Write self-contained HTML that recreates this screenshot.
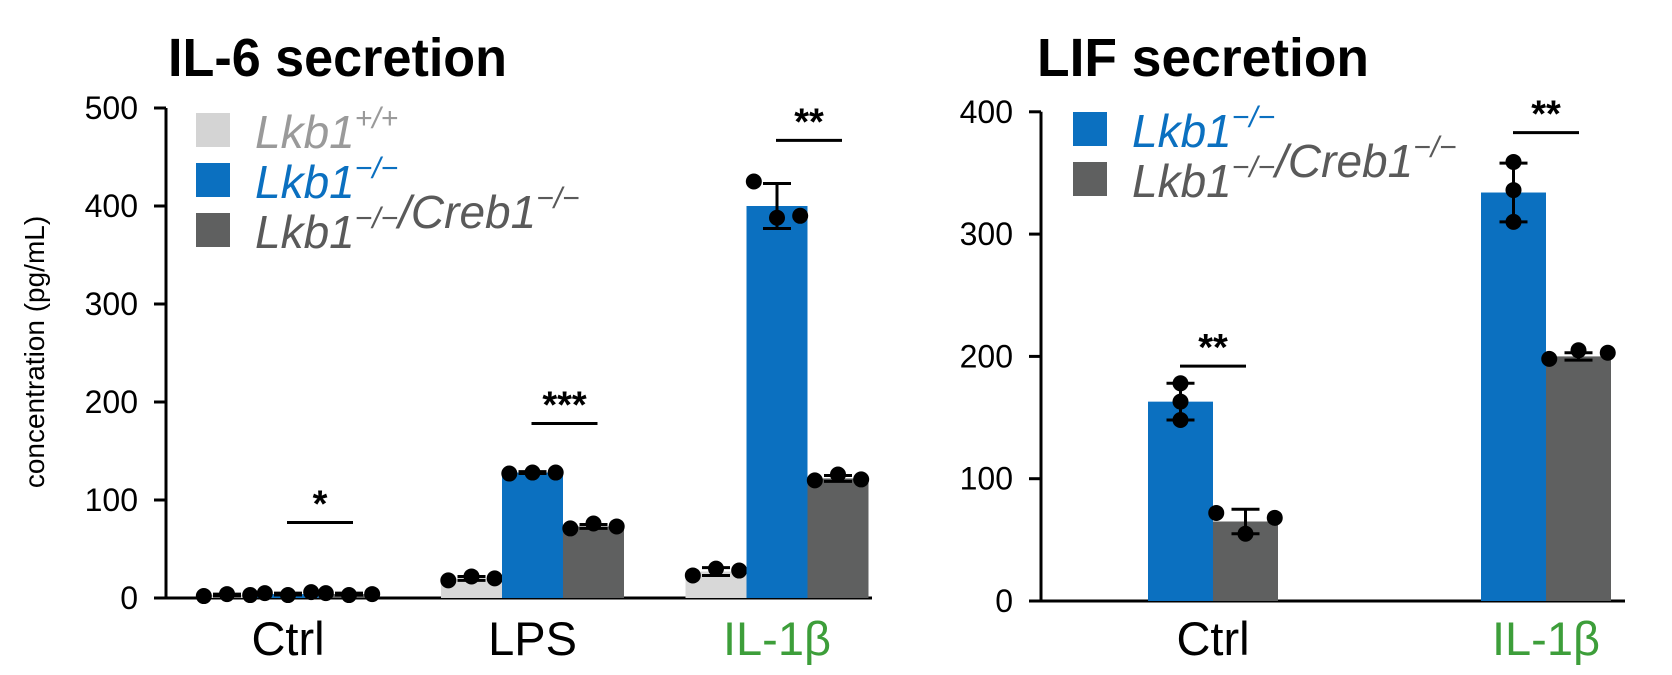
<!DOCTYPE html>
<html><head><meta charset="utf-8"><style>
body{margin:0;background:#fff;}
svg{display:block;font-family:"Liberation Sans",sans-serif;}
</style></head><body>
<svg id="c" width="1672" height="675" xmlns="http://www.w3.org/2000/svg">
<text x="168" y="76" font-size="54" font-weight="bold" textLength="339" lengthAdjust="spacingAndGlyphs">IL-6 secretion</text>
<text x="1037" y="76" font-size="54" font-weight="bold" textLength="332" lengthAdjust="spacingAndGlyphs">LIF secretion</text>
<text transform="translate(44,352) rotate(-90)" text-anchor="middle" font-size="28">concentration (pg/mL)</text>
<g id="L"></g>
<g id="R"></g>
</svg>
<script>
// Left chart data (IL-6)
const leftCats = ["Ctrl","LPS","IL-1β"];
const leftWT = [3, 20, 27];
const leftKO = [4, 128, 400];
const leftDKO = [4, 73, 122];
const leftWTpts = [[2,4,3],[18,22,20],[23,30,28]];
const leftKOpts = [[5,3,6],[127,128,128],[425,388,390]];
const leftDKOpts = [[5,3,4],[71,76,73],[120,126,121]];
const leftErr = [[1,1,1],[2,1,2],[4,23,3]];
const leftTicks = [0,100,200,300,400,500];
const leftSig = ["*","***","**"];
const leftSigY = [77, 178, 467];
// Right chart data (LIF)
const rightCats = ["Ctrl","IL-1β"];
const rightKO = [163, 334];
const rightDKO = [65, 200];
const rightKOpts = [[178,163,148],[359,336,310]];
const rightDKOpts = [[72,55,68],[198,205,203]];
const rightErr = [[15,10],[24,3]];
const rightTicks = [0,100,200,300,400];
const rightSig = ["**","**"];
const rightSigY = [192, 383];

const NS="http://www.w3.org/2000/svg";
const BLUE="#0b70c0", DARK="#5f6060", LIGHT="#d8d8d8";
function mk(p,tag,at){const e=document.createElementNS(NS,tag);for(const k in at)e.setAttribute(k,at[k]);p.appendChild(e);return e;}

function drawChart(g, opt){
  const y = v => opt.y0 - v*opt.py;
  let e=mk(g,"line",{x1:opt.ax,y1:y(opt.ticks[opt.ticks.length-1]),x2:opt.ax,y2:opt.y0+1,stroke:"#000","stroke-width":3});
  
  
  e=mk(g,"line",{x1:opt.ax-12,y1:opt.y0,x2:opt.axEnd,y2:opt.y0,stroke:"#000","stroke-width":3});
  
  
  opt.ticks.forEach(t=>{
    let l=mk(g,"line",{x1:opt.ax-12,y1:y(t),x2:opt.ax,y2:y(t),stroke:"#000","stroke-width":3});
    
    
    let tx=mk(g,"text",{x:opt.ax-28,y:y(t)+11,"text-anchor":"end","font-size":32});
    tx.textContent=t;
    
    
  });
  opt.cats.forEach((c,i)=>{
    const cx=opt.c0+i*opt.gap;
    const n=opt.series.length;
    opt.series.forEach((s,j)=>{
      const bx=cx+(j-n/2)*opt.bw;
      const v=s.vals[i];
      let r=mk(g,"rect",{x:bx,y:y(v),width:opt.bw,height:v*opt.py,fill:s.color});
      
      
      const mx=bx+opt.bw/2, er=s.err[i];
      let eb=mk(g,"path",{d:`M${mx} ${y(v+er)}V${y(v-er)}M${mx-14} ${y(v+er)}H${mx+14}M${mx-14} ${y(v-er)}H${mx+14}`,stroke:"#000","stroke-width":3,fill:"none"});
      
      
      s.pts[i].forEach((p,k)=>{
        const off=(k-1)*opt.bw*s.spread;
        let d=mk(g,"circle",{cx:mx+off,cy:y(p),r:8,fill:"#000"});
        
        
      });
    });
    let lb=mk(g,"text",{x:cx,y:655,"text-anchor":"middle","font-size":47,fill:c==="IL-1β"?"#3d9e3a":"#000"});
    lb.textContent=c;
    
    
    const sx=cx+opt.sigOff, sy=y(opt.sigY[i]);
    let sl=mk(g,"line",{x1:sx-opt.sigW/2,y1:sy,x2:sx+opt.sigW/2,y2:sy,stroke:"#000","stroke-width":3});
    
    
    let st=mk(g,"text",{x:sx,y:sy-6,"text-anchor":"middle","font-size":38,"font-weight":"bold"});
    st.textContent=opt.sig[i];
    
    
  });
  opt.legend.forEach((l,i)=>{
    const ly=opt.legY+i*50;
    let sq=mk(g,"rect",{x:opt.legX,y:ly-35,width:34,height:34,fill:l.color});
    
    
    let t=mk(g,"text",{x:opt.legX+59,y:ly,"font-size":46,"font-style":"italic",fill:l.tc});
    t.innerHTML=l.html;
    
    
  });
}
const sup=s=>`<tspan dy="-20" font-size="30">${s}</tspan><tspan dy="20"></tspan>`;
drawChart(document.getElementById("L"),{
  y0:598, py:0.98, ax:166, axEnd:872, ticks:leftTicks, cats:leftCats,
  c0:288, gap:244.5, bw:61, sig:leftSig, sigY:leftSigY, sigOff:32, sigW:66,
  series:[
    {name:"wt",vals:leftWT,pts:leftWTpts,err:leftErr.map(e=>e[0]),color:LIGHT,spread:0.38},
    {name:"ko",vals:leftKO,pts:leftKOpts,err:leftErr.map(e=>e[1]),color:BLUE,spread:0.38},
    {name:"dko",vals:leftDKO,pts:leftDKOpts,err:leftErr.map(e=>e[2]),color:DARK,spread:0.38}],
  legX:196, legY:148,
  legend:[
    {color:"#d4d4d4",tc:"#9a9a9a",html:"Lkb1"+sup("+/+")},
    {color:BLUE,tc:BLUE,html:"Lkb1"+sup("−/−")},
    {color:DARK,tc:"#5a5a5a",html:"Lkb1"+sup("−/−")+"/Creb1"+sup("−/−")}]
});
drawChart(document.getElementById("R"),{
  y0:601, py:1.223, ax:1041, axEnd:1625, ticks:rightTicks, cats:rightCats,
  c0:1213, gap:333, bw:65, sig:rightSig, sigY:rightSigY, sigOff:0, sigW:66,
  series:[
    {name:"ko",vals:rightKO,pts:rightKOpts,err:rightErr.map(e=>e[0]),color:BLUE,spread:0},
    {name:"dko",vals:rightDKO,pts:rightDKOpts,err:rightErr.map(e=>e[1]),color:DARK,spread:0.45}],
  legX:1073, legY:147,
  legend:[
    {color:BLUE,tc:BLUE,html:"Lkb1"+sup("−/−")},
    {color:DARK,tc:"#5a5a5a",html:"Lkb1"+sup("−/−")+"/Creb1"+sup("−/−")}]
});
</script>
</body></html>
